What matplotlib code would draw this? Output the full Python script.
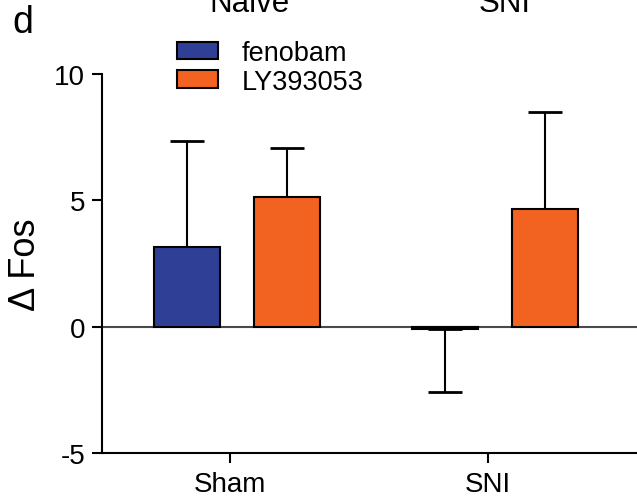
import numpy as np
import matplotlib
matplotlib.use("Agg")
import matplotlib.pyplot as plt

plt.rcParams['font.family'] = ['Liberation Sans', 'DejaVu Sans']

# values
groups = ["Sham", "SNI"]
fenobam = [3.15, -0.1]
fenobam_err = [4.2, 2.47]
ly393053 = [5.12, 4.66]
ly393053_err = [1.95, 3.84]

blue = "#2e3f95"
orange = "#f26322"


def one_sided(values, errs):
    # error bar only goes away from zero
    values = np.array(values)
    errs = np.array(errs)
    lower = np.where(values < 0, errs, 0)
    upper = np.where(values >= 0, errs, 0)
    return [lower, upper]


fig = plt.figure(figsize=(6.37, 5.02), dpi=100)
ax = fig.add_axes([0.160, 0.0956, 0.840, 0.755])

x = np.arange(len(groups))
w = 0.256
pos_blue = x - 0.165
pos_orange = x + 0.222

ax.axhline(0, color="#4a4a4a", lw=1.5, zorder=1)

ax.errorbar(pos_blue, fenobam, yerr=one_sided(fenobam, fenobam_err), fmt="none",
            ecolor="black", elinewidth=1.5, capsize=12, capthick=2, zorder=2)
ax.errorbar(pos_orange, ly393053, yerr=one_sided(ly393053, ly393053_err), fmt="none",
            ecolor="black", elinewidth=1.5, capsize=12, capthick=2, zorder=2)

ax.bar(pos_blue, fenobam, width=w, color=blue, edgecolor="black", linewidth=1.5,
       label="fenobam", zorder=3)
ax.bar(pos_orange, ly393053, width=w, color=orange, edgecolor="black", linewidth=1.5,
       label="LY393053", zorder=3)

ax.set_xlim(-0.497, 1.58)
ax.set_ylim(-5, 10)
ax.set_yticks([-5, 0, 5, 10])
ax.set_yticklabels(["-5", "0", "5", "10"])
ax.set_xticks(x)
ax.set_xticklabels(groups)

for s in ["top", "right"]:
    ax.spines[s].set_visible(False)
for s in ["left", "bottom"]:
    ax.spines[s].set_linewidth(1.5)

ax.tick_params(axis="y", length=7, width=1.5, labelsize=20, pad=5)
ax.tick_params(axis="x", length=7, width=1.5, labelsize=20, pad=6)
ax.set_ylabel("\u0394 Fos", fontsize=26, labelpad=8)

ax.legend(loc="upper left", bbox_to_anchor=(177 / 637, 1 - 41 / 502),
          bbox_transform=fig.transFigure, frameon=False, fontsize=19.5,
          borderpad=0, borderaxespad=0, handlelength=1.5, handleheight=0.62,
          handletextpad=0.88, labelspacing=0.1)

fig.text(250 / 637, 1 - 12 / 502, "Naive", fontsize=22.5, ha="center", va="baseline")
fig.text(505 / 637, 1 - 12 / 502, "SNI", fontsize=22.5, ha="center", va="baseline")
fig.text(12 / 637, 1 - 33 / 502, "d", fontsize=27, ha="left", va="baseline")

fig.savefig("out.png", dpi=100)
